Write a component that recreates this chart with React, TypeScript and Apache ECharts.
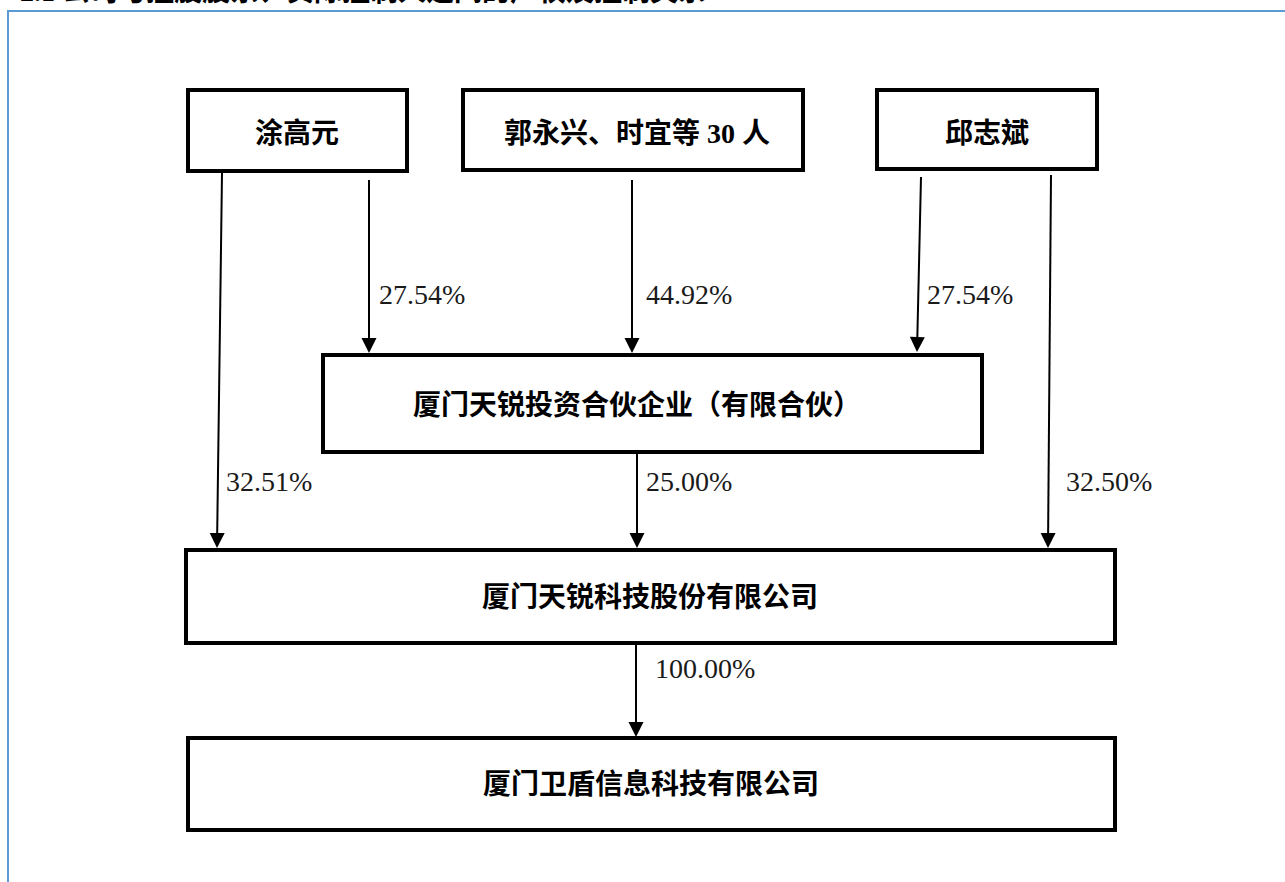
import React, { useEffect, useRef } from "react";
import * as echarts from "echarts";

// ---- data ----
const titleText = "2.1 公司与控股股东、实际控制人之间的产权及控制关系";
const entities = [
  "涂高元",
  "郭永兴、时宜等 30 人",
  "邱志斌",
  "厦门天锐投资合伙企业（有限合伙）",
  "厦门天锐科技股份有限公司",
  "厦门卫盾信息科技有限公司",
];
const linkFrom = [0, 1, 2, 0, 3, 2, 4];
const linkTo = [3, 3, 3, 4, 4, 4, 5];
const shareValues = [27.54, 44.92, 27.54, 32.51, 25.0, 32.5, 100.0];

// ---- layout (pixel space of the hidden axes) ----
const boxLayout = [
  { x: 188, y: 90, w: 219, h: 81, tx: 297, ty: 133 },
  { x: 463, y: 90, w: 340, h: 80, tx: 637, ty: 133 },
  { x: 877, y: 90, w: 220, h: 79, tx: 987, ty: 133 },
  { x: 323, y: 355, w: 659, h: 97, tx: 637, ty: 405 },
  { x: 186, y: 550, w: 929, h: 93, tx: 650, ty: 597 },
  { x: 188, y: 738, w: 927, h: 92, tx: 651, ty: 784 },
];
const arrowLayout = [
  { x1: 369, y1: 180, x2: 369, y2: 353, lx: 379, ly: 294 },
  { x1: 632, y1: 180, x2: 632, y2: 353, lx: 646, ly: 294 },
  { x1: 921, y1: 177, x2: 917, y2: 352, lx: 927, ly: 294 },
  { x1: 222, y1: 173, x2: 217, y2: 548, lx: 226, ly: 481 },
  { x1: 637, y1: 453, x2: 637, y2: 548, lx: 646, ly: 481 },
  { x1: 1051, y1: 175, x2: 1048, y2: 548, lx: 1066, ly: 481 },
  { x1: 636, y1: 645, x2: 636, y2: 737, lx: 655, ly: 668 },
];

const W = 1285;
const H = 882;
const CJK_FONT = '"Liberation Serif", "Noto Sans CJK SC", sans-serif';

export default function App() {
  const ref = useRef<HTMLDivElement>(null);
  useEffect(() => {
    if (!ref.current) return;
    const chart = echarts.init(ref.current, null, { renderer: "svg" });
    const option: any = {
      animation: false,
      backgroundColor: "#ffffff",
      grid: { left: 0, right: 0, top: 0, bottom: 0 },
      xAxis: { type: "value", min: 0, max: W, show: false },
      yAxis: { type: "value", min: 0, max: H, inverse: true, show: false },
      graphic: [
        {
          type: "rect",
          shape: { x: 8, y: 11, width: 1400, height: 1000 },
          style: { fill: "none", stroke: "#5b9bd5", lineWidth: 2 },
          silent: true,
        },
        {
          type: "text",
          x: 20,
          y: -9,
          style: {
            text: titleText,
            fill: "#000",
            fontSize: 28,
            fontWeight: "bold",
            fontFamily: CJK_FONT,
            verticalAlign: "middle",
            align: "left",
          },
          silent: true,
        },
      ],
      series: [
        {
          type: "custom",
          name: "boxes",
          coordinateSystem: "cartesian2d",
          clip: false,
          data: entities.map((n, i) => ({ name: n, value: [boxLayout[i].tx, boxLayout[i].ty] })),
          renderItem: (params: any, api: any) => {
            const i = params.dataIndex;
            const l = boxLayout[i];
            const p0 = api.coord([l.x, l.y]);
            const p1 = api.coord([l.x + l.w, l.y + l.h]);
            const pt = api.coord([l.tx, l.ty]);
            return {
              type: "group",
              children: [
                {
                  type: "rect",
                  shape: { x: p0[0], y: p0[1], width: p1[0] - p0[0], height: p1[1] - p0[1] },
                  style: { fill: "#ffffff", stroke: "#000000", lineWidth: 4 },
                },
                {
                  type: "text",
                  style: {
                    text: entities[i],
                    x: pt[0],
                    y: pt[1],
                    fill: "#000",
                    fontSize: 28,
                    fontWeight: "bold",
                    fontFamily: CJK_FONT,
                    align: "center",
                    verticalAlign: "middle",
                  },
                },
              ],
            };
          },
        },
        {
          type: "custom",
          name: "links",
          coordinateSystem: "cartesian2d",
          clip: false,
          data: shareValues.map((v, i) => ({
            name: entities[linkFrom[i]] + " → " + entities[linkTo[i]],
            value: [arrowLayout[i].x2, arrowLayout[i].y2, v],
          })),
          renderItem: (params: any, api: any) => {
            const i = params.dataIndex;
            const a = arrowLayout[i];
            const s = api.coord([a.x1, a.y1]);
            const e = api.coord([a.x2, a.y2]);
            const dx = e[0] - s[0];
            const dy = e[1] - s[1];
            const len = Math.sqrt(dx * dx + dy * dy);
            const ux = dx / len;
            const uy = dy / len;
            const hl = 15;
            const hw = 7.5;
            const bx = e[0] - ux * hl;
            const by = e[1] - uy * hl;
            const lp = api.coord([a.lx, a.ly]);
            return {
              type: "group",
              children: [
                {
                  type: "line",
                  shape: { x1: s[0], y1: s[1], x2: bx, y2: by },
                  style: { stroke: "#000", lineWidth: 2 },
                },
                {
                  type: "polygon",
                  shape: {
                    points: [
                      [e[0], e[1]],
                      [bx - uy * hw, by + ux * hw],
                      [bx + uy * hw, by - ux * hw],
                    ],
                  },
                  style: { fill: "#000", stroke: "none" },
                },
                {
                  type: "text",
                  style: {
                    text: shareValues[i].toFixed(2) + "%",
                    x: lp[0],
                    y: lp[1],
                    fill: "#1a1a1a",
                    fontSize: 28,
                    fontFamily: '"Liberation Serif", serif',
                    align: "left",
                    verticalAlign: "middle",
                  },
                },
              ],
            };
          },
        },
      ],
    };
    chart.setOption(option);
    return () => chart.dispose();
  }, []);
  return (
    <div
      ref={ref}
      style={{ position: "absolute", left: 0, top: 0, width: W, height: H }}
    />
  );
}
